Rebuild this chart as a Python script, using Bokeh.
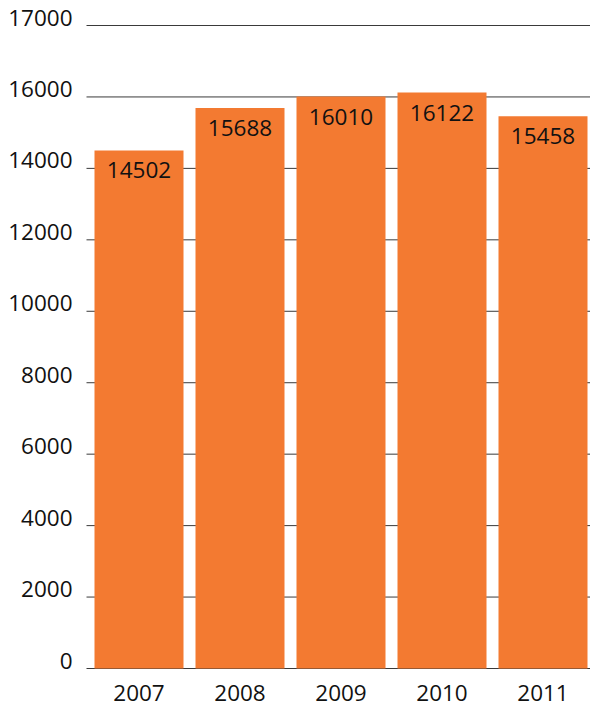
from bokeh.plotting import figure
from bokeh.models import Range1d, ColumnDataSource
from bokeh.core.properties import value
from bokeh.embed import file_html
from bokeh.resources import INLINE

years = ["2007", "2008", "2009", "2010", "2011"]
values = [14502, 15688, 16010, 16122, 15458]
tick_values = [0, 2000, 4000, 6000, 8000, 10000, 12000, 14000, 16000, 18000]
tick_labels = ["0", "2000", "4000", "6000", "8000", "10000", "12000", "14000", "16000", "17000"]

W, H = 590, 706
px_per_cat = 101.0
x0_px = 138.5
y0_px = 668.0
ytop_px = 25.0
ymax = 18000.0
py = (y0_px - ytop_px) / ymax
TXT_SHIFT = -8  # compensate text baseline rendering

x_range = Range1d(-x0_px / px_per_cat, (W - x0_px) / px_per_cat)
y_range = Range1d(-(H - y0_px) / py, ymax + ytop_px / py)

p = figure(width=W, height=H, x_range=x_range, y_range=y_range,
           output_backend="svg", toolbar_location=None,
           min_border=0, min_border_left=0, min_border_right=0,
           min_border_top=0, min_border_bottom=0)
p.axis.visible = False
p.grid.visible = False
p.outline_line_color = None
p.background_fill_color = "white"
p.border_fill_color = "white"

FONT = value("Open Sans")
FS = "22.5px"

idx = list(range(len(years)))
src = ColumnDataSource(dict(x=idx, top=values, year=years,
                            lab=[str(v) for v in values]))

# gridlines
gx0 = (86 - x0_px) / px_per_cat
gx1 = x_range.end
p.segment(x0=[gx0] * len(tick_values), x1=[gx1] * len(tick_values),
          y0=tick_values, y1=tick_values, line_color="#3a3a3a", line_width=1)

# bars
p.vbar(x="x", top="top", bottom=0, width=89 / px_per_cat, source=src,
       fill_color="#F37A31", line_color=None)

# value labels inside bars
p.text(x="x", y="top", text="lab", source=src, text_align="center",
       text_baseline="alphabetic", y_offset=28 + TXT_SHIFT, text_font=FONT,
       text_font_size=FS, text_color="#111111")

# year labels
p.text(x="x", y=0, text="year", source=src, text_align="center",
       text_baseline="alphabetic", y_offset=32 + TXT_SHIFT, text_font=FONT,
       text_font_size=FS, text_color="#111111")

# y tick labels
lx = (72 - x0_px) / px_per_cat
p.text(x=[lx] * len(tick_values), y=tick_values, text=tick_labels,
       text_align="right", text_baseline="alphabetic", y_offset=TXT_SHIFT,
       text_font=FONT, text_font_size=FS, text_color="#111111")

open("out.html", "w").write(file_html(p, INLINE))
